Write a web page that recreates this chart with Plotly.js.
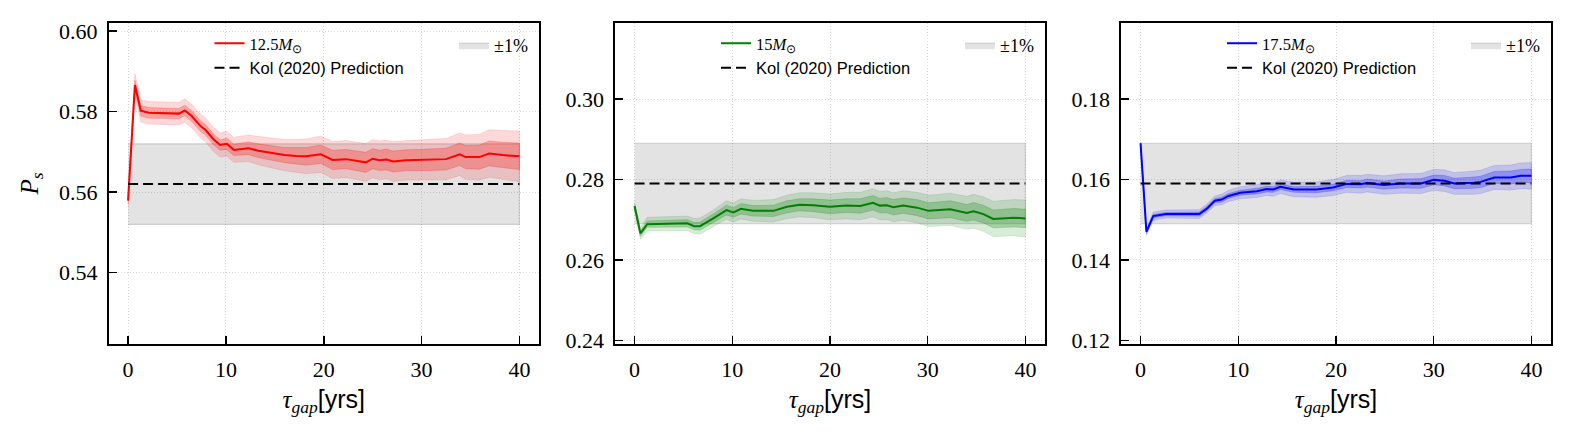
<!DOCTYPE html>
<html>
<head>
<meta charset="utf-8">
<script src="https://cdn.plot.ly/plotly-3.0.1.min.js"></script>
<style>body{margin:0;background:#fff}</style>
</head>
<body>
<div id="myPlot" style="width:1575px;height:437px"></div>
<script>
// gap length (yrs) and survival probability
let gap1=[0,0.7,1.3,2.1,5.2,5.8,6.5,7.4,7.9,8.7,9.4,10.1,10.8,11.6,12.3,13.3,14.7,16.0,17.2,18.2,19.7,20.9,22.3,24.3,25.0,25.7,26.4,27.1,28.4,30.8,32.5,33.9,34.5,35.9,36.9,38.3,40.0]
let ps1=[0.5579,0.5866,0.5802,0.5797,0.5795,0.5803,0.5789,0.5764,0.5755,0.5732,0.5717,0.5720,0.5705,0.5707,0.5709,0.5703,0.5697,0.5692,0.5690,0.5689,0.5694,0.5680,0.5682,0.5674,0.5683,0.5679,0.5681,0.5676,0.5679,0.5681,0.5682,0.5694,0.5687,0.5687,0.5696,0.5692,0.5689]
let in1=[0.0008,0.0012,0.0013,0.0013,0.0013,0.0013,0.0013,0.0013,0.0013,0.0013,0.0013,0.0014,0.0014,0.0015,0.0016,0.0017,0.0018,0.0019,0.0021,0.0022,0.0023,0.0024,0.0024,0.0025,0.0025,0.0025,0.0026,0.0026,0.0026,0.0027,0.0027,0.0028,0.0029,0.0030,0.0031,0.0032,0.0033]
let out1=[0.0015,0.0028,0.0028,0.0028,0.0028,0.0029,0.0029,0.0029,0.0030,0.0030,0.0030,0.0031,0.0031,0.0032,0.0033,0.0035,0.0037,0.0039,0.0041,0.0043,0.0045,0.0046,0.0046,0.0047,0.0047,0.0048,0.0048,0.0049,0.0049,0.0050,0.0051,0.0053,0.0055,0.0057,0.0059,0.0061,0.0063]

let gap2=[0,0.6,1.3,5.4,6.1,6.7,8.1,9.4,10.1,10.9,12.1,14.2,15.6,16.9,18.3,20.0,21.7,23.1,24.4,25.1,25.8,26.5,27.5,28.9,30.1,32.3,34.0,34.7,35.7,36.7,38.8,40.0]
let ps2=[0.2734,0.2666,0.2689,0.2691,0.2684,0.2684,0.2704,0.2724,0.2718,0.2727,0.2722,0.2722,0.2732,0.2737,0.2736,0.2732,0.2735,0.2734,0.2742,0.2735,0.2736,0.2731,0.2735,0.2730,0.2722,0.2726,0.2717,0.2721,0.2714,0.2702,0.2705,0.2703]
let in2=[0.0005,0.0007,0.0008,0.0009,0.0009,0.0010,0.0011,0.0012,0.0012,0.0013,0.0013,0.0014,0.0015,0.0015,0.0016,0.0017,0.0017,0.0018,0.0018,0.0018,0.0019,0.0019,0.0019,0.0020,0.0020,0.0021,0.0021,0.0022,0.0022,0.0022,0.0023,0.0023]
let out2=[0.0010,0.0015,0.0017,0.0018,0.0019,0.0020,0.0021,0.0023,0.0024,0.0025,0.0026,0.0028,0.0029,0.0030,0.0031,0.0032,0.0033,0.0034,0.0035,0.0035,0.0036,0.0036,0.0037,0.0038,0.0039,0.0040,0.0041,0.0042,0.0043,0.0044,0.0045,0.0046]

let gap3=[0,0.6,1.3,2.6,6.0,6.8,7.6,8.3,9.0,10.2,11.9,12.9,13.6,14.3,15.7,18.0,19.7,21.1,22.5,23.2,24.9,26.6,28.7,30.0,31.1,32.1,34.1,34.8,36.2,37.9,38.9,40.0]
let ps3=[0.1690,0.1470,0.1509,0.1514,0.1514,0.1528,0.1547,0.1550,0.1559,0.1567,0.1571,0.1576,0.1575,0.1582,0.1575,0.1575,0.1580,0.1589,0.1588,0.1591,0.1586,0.1590,0.1590,0.1599,0.1597,0.1590,0.1592,0.1594,0.1605,0.1605,0.1609,0.1609]
let in3=[0.0002,0.0004,0.0004,0.0004,0.0005,0.0005,0.0005,0.0006,0.0006,0.0006,0.0007,0.0007,0.0007,0.0007,0.0007,0.0008,0.0008,0.0009,0.0009,0.0010,0.0010,0.0011,0.0012,0.0012,0.0013,0.0013,0.0014,0.0014,0.0015,0.0016,0.0016,0.0017]
let out3=[0.0004,0.0009,0.0010,0.0010,0.0011,0.0011,0.0012,0.0013,0.0014,0.0015,0.0016,0.0016,0.0017,0.0017,0.0018,0.0019,0.0020,0.0021,0.0022,0.0022,0.0023,0.0024,0.0025,0.0026,0.0027,0.0027,0.0029,0.0029,0.0030,0.0031,0.0032,0.0033]

let masses=['12.5','15','17.5']
let kolPred=[0.562,0.279,0.159]
let bandHalf=0.01
let gapEnds=[0,40]
let colors=['#ff0000','#008000','#0000ff']
let rgb=['255,0,0','0,128,0','0,0,255']
let yRanges=[[0.5223,0.602],[0.2391,0.3189],[0.1191,0.1989]]
let yTicks=[[0.54,0.56,0.58,0.60],[0.24,0.26,0.28,0.30],[0.12,0.14,0.16,0.18]]
let xTicks=[0,10,20,30,40]

let gaps=[gap1,gap2,gap3]
let ps=[ps1,ps2,ps3]
let ins=[in1,in2,in3]
let outs=[out1,out2,out3]

const W=1575, H=437
const SERIF="'Liberation Serif', 'Times New Roman', serif"
let xDom=[[108.5,539],[615,1045],[1121,1551]]
let yDom=[1-344/H,1-23/H]

function band(xs,mid,half){
    let up=mid.map((v,i)=>v+half[i])
    let lo=mid.map((v,i)=>v-half[i])
    return {x:xs.concat(xs.slice().reverse()),y:up.concat(lo.slice().reverse())}
}

let data=[]
let layout={
    width:W,height:H,
    margin:{l:0,r:0,t:0,b:0},
    paper_bgcolor:'#fff',plot_bgcolor:'#fff',
    font:{family:SERIF,size:22,color:'#000'},
    showlegend:true
}

for(let k=0;k<3;k++){
    let n=k===0?'':String(k+1)
    let xa='x'+n, ya='y'+n
    let legA='legend'+(k===0?'':String(2*k+1))
    let legB='legend'+String(2*k+2)
    // grey +-1% band
    data.push({x:[gapEnds[0],gapEnds[1],gapEnds[1],gapEnds[0]],
        y:[kolPred[k]-bandHalf,kolPred[k]-bandHalf,kolPred[k]+bandHalf,kolPred[k]+bandHalf],
        xaxis:xa,yaxis:ya,mode:'lines',fill:'toself',
        fillcolor:'rgba(128,128,128,0.22)',line:{color:'rgba(128,128,128,0.3)',width:1.2},
        name:'±1%',legend:legB,hoverinfo:'skip'})
    let bo=band(gaps[k],ps[k],outs[k])
    data.push({x:bo.x,y:bo.y,xaxis:xa,yaxis:ya,mode:'lines',fill:'toself',
        fillcolor:'rgba('+rgb[k]+',0.15)',line:{color:'rgba('+rgb[k]+',0.12)',width:1},
        showlegend:false,hoverinfo:'skip'})
    let bi=band(gaps[k],ps[k],ins[k])
    data.push({x:bi.x,y:bi.y,xaxis:xa,yaxis:ya,mode:'lines',fill:'toself',
        fillcolor:'rgba('+rgb[k]+',0.25)',line:{color:'rgba('+rgb[k]+',0.2)',width:1},
        showlegend:false,hoverinfo:'skip'})
    data.push({x:gaps[k],y:ps[k],xaxis:xa,yaxis:ya,mode:'lines',
        line:{color:colors[k],width:2},
        name:masses[k]+'<i>M</i><sub>⊙</sub>',legend:legA})
    data.push({x:gapEnds,y:[kolPred[k],kolPred[k]],xaxis:xa,yaxis:ya,mode:'lines',
        line:{color:'#000',width:2,dash:'10px,5px'},
        name:'<span style="font-family:Liberation Sans">Kol (2020) Prediction</span>',legend:legA})

    let common={showline:true,linecolor:'#000',linewidth:1.6,mirror:true,
        ticks:'inside',ticklen:8,tickwidth:1.5,tickcolor:'#000',
        showgrid:true,gridcolor:'#d6d6d6',griddash:'1px,2px',gridwidth:1,
        zeroline:false,ticklabelstandoff:5,
        tickfont:{family:SERIF,size:22,color:'#000'}}
    layout['xaxis'+n]=Object.assign({},common,{
        domain:[xDom[k][0]/W,xDom[k][1]/W],anchor:ya,range:[-2,42],
        tickvals:xTicks,ticktext:xTicks.map(String),
        title:{text:'<i>τ</i><sub><i>gap</i></sub><span style="font-family:Liberation Sans">[yrs]</span>',
            font:{family:SERIF,size:25,color:'#000'},standoff:9}})
    layout['yaxis'+n]=Object.assign({},common,{
        domain:yDom,anchor:xa,range:yRanges[k],
        tickvals:yTicks[k],ticktext:yTicks[k].map(v=>v.toFixed(2))})
    if(k===0){
        layout.yaxis.title={text:'<i>P</i><sub><i>s</i></sub>',font:{family:SERIF,size:25,color:'#000'},standoff:13}
    }
    layout[legA]={x:(xDom[k][0]+101)/W,y:1-26/H,xanchor:'left',yanchor:'top',bgcolor:'rgba(0,0,0,0)',
        font:{family:SERIF,size:16.5,color:'#000'},tracegroupgap:0}
    layout[legB]={x:(xDom[k][1]-6)/W,y:1-27/H,xanchor:'right',yanchor:'top',bgcolor:'rgba(0,0,0,0)',
        font:{family:SERIF,size:18,color:'#000'}}
}

Plotly.newPlot('myPlot',data,layout,{staticPlot:true})
</script>
</body>
</html>
